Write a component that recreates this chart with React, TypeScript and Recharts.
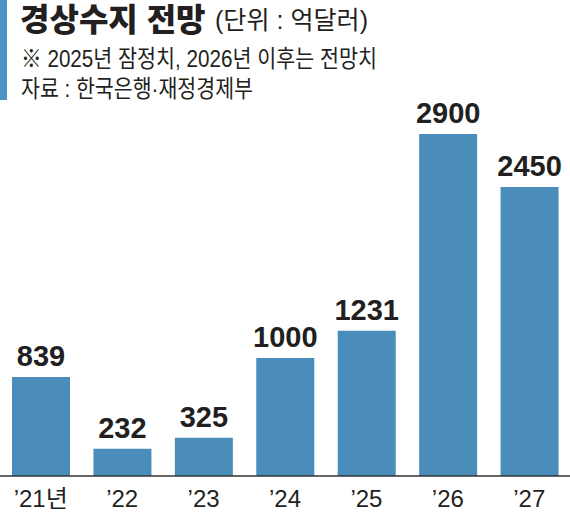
import React from "react";
import { BarChart, Bar, XAxis, YAxis, LabelList } from "recharts";

const years = ["’21년", "’22", "’23", "’24", "’25", "’26", "’27"];
const balances = [839, 232, 325, 1000, 1231, 2900, 2450];
const data = years.map((year, i) => ({ year, value: balances[i] }));

const titleMain = "경상수지 전망";
const titleUnit = "(단위 : 억달러)";
const noteLine = "※ 2025년 잠정치, 2026년 이후는 전망치";
const sourceLine = "자료 : 한국은행·재정경제부";

const BAR = "#4a8dba";
const INK = "#231f20";
const NARROW = "'Liberation Sans Narrow', 'Arial Narrow', 'Liberation Sans', 'Noto Sans CJK KR', sans-serif";
const HEAD = "'Liberation Sans', 'Noto Sans CJK KR', sans-serif";

export default function App() {
  return (
    <div style={{ position: "absolute", left: 0, top: 0, width: 570, height: 518, background: "#fff" }}>
      <BarChart
        width={570}
        height={518}
        data={data}
        margin={{ top: 134, right: 0, left: 0, bottom: 0 }}
      >
        <YAxis hide domain={[0, 2900]} />
        <XAxis
          dataKey="year"
          height={42}
          tickLine={false}
          tickSize={0}
          tickMargin={14}
          axisLine={{ stroke: "#333", strokeWidth: 1.5 }}
          tick={{ fill: INK, fontSize: 24, fontFamily: NARROW }}
          interval={0}
        />
        <Bar dataKey="value" fill={BAR} barSize={58} isAnimationActive={false}>
          <LabelList
            dataKey="value"
            position="top"
            offset={11}
            fill={INK}
            fontSize={29}
            fontWeight="bold"
            fontFamily={NARROW}
          />
        </Bar>
      </BarChart>
      <svg
        width={570}
        height={110}
        style={{ position: "absolute", left: 0, top: 0 }}
      >
        <rect x={0} y={0} width={7} height={100} fill="#4d93c3" />
        <text x={215} y={29} fontSize={25} fontFamily={HEAD} fill={INK} textLength={153} lengthAdjust="spacingAndGlyphs">
          {titleUnit}
        </text>
        <text x={21} y={67} fontSize={24} fontFamily={HEAD} fill={INK} textLength={356} lengthAdjust="spacingAndGlyphs">
          {noteLine}
        </text>
        <text x={21} y={97} fontSize={24} fontFamily={HEAD} fill={INK} textLength={232} lengthAdjust="spacingAndGlyphs">
          {sourceLine}
        </text>
      </svg>
      <div
        style={{
          position: "absolute",
          left: 20,
          top: 6,
          height: 28,
          lineHeight: "28px",
          fontSize: 32,
          fontWeight: 900,
          fontFamily: HEAD,
          color: INK,
          whiteSpace: "nowrap",
          letterSpacing: 0,
        }}
      >
        {titleMain}
      </div>
    </div>
  );
}
